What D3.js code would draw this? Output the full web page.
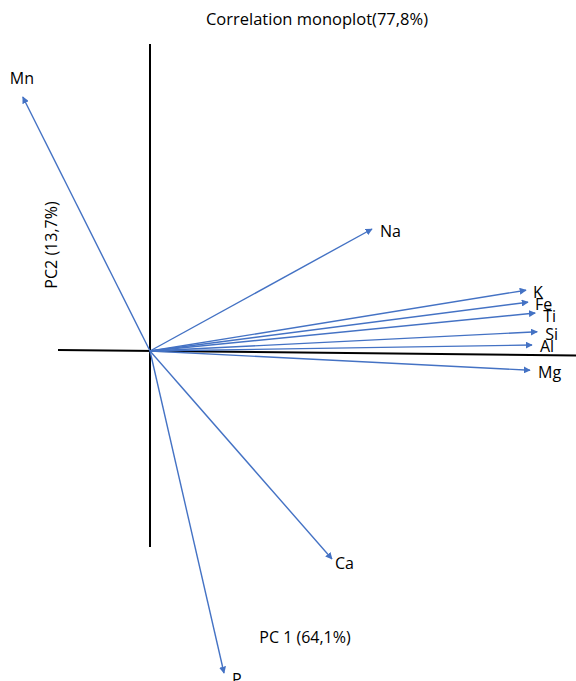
<!DOCTYPE html>
<html><head><meta charset="utf-8">
<script src="https://cdn.jsdelivr.net/npm/d3@7"></script>
<style>body{margin:0;background:#fff}svg{display:block}text{font-family:"Open Sans",sans-serif;fill:#000}</style>
</head><body><svg id="c" width="576" height="681"></svg>
<script>
const variables = ["Mn","Na","K","Fe","Ti","Si","Al","Mg","Ca","P"];
const pc1 = [-0.318, 0.555, 0.940, 0.945, 0.963, 0.968, 0.955, 0.950, 0.455, 0.185];
const pc2 = [0.635, 0.305, 0.152, 0.122, 0.095, 0.048, 0.015, -0.048, -0.520, -0.805];
const title = "Correlation monoplot(77,8%)";
const xLabel = "PC 1 (64,1%)";
const yLabel = "PC2 (13,7%)";

const W = 576, H = 681;
const x = d3.scaleLinear().domain([-0.23, 1.065]).range([58, 576]);
const y = d3.scaleLinear().domain([0.8775, -0.825]).range([0, 681]);
const svg = d3.select("#c");
const blue = "#4472C4";

svg.append("defs").append("marker").attr("id","ah").attr("viewBox","0 0 10 10")
  .attr("refX",9).attr("refY",5).attr("markerWidth",7).attr("markerHeight",7)
  .attr("markerUnits","userSpaceOnUse").attr("orient","auto")
  .append("path").attr("d","M0,0L10,5L0,10z").attr("fill",blue);

// axes lines
svg.append("line").attr("x1",x(0)).attr("x2",x(0)).attr("y1",y(0.7675)).attr("y2",y(-0.49))
  .attr("stroke","#000").attr("stroke-width",2);
svg.append("line").attr("x1",x(-0.23)).attr("x2",x(1.065)).attr("y1",y(0.0025)).attr("y2",y(-0.0113))
  .attr("stroke","#000").attr("stroke-width",2);

const data = variables.map((v,i)=>({v, a:pc1[i], b:pc2[i]}));
svg.selectAll("line.v").data(data).join("line").attr("class","v")
  .attr("x1",x(0)).attr("y1",y(0)).attr("x2",d=>x(d.a)).attr("y2",d=>y(d.b))
  .attr("stroke",blue).attr("stroke-width",1.4).attr("marker-end","url(#ah)");

const off = {Mn:[-13,-13],Na:[8,8],K:[7,8],Fe:[7,8],Ti:[8,9],Si:[8,8],Al:[8,7],Mg:[8,8],Ca:[3,10],P:[8,12]};
svg.selectAll("text.l").data(data).join("text").attr("class","l")
  .attr("x",d=>x(d.a)+off[d.v][0]).attr("y",d=>y(d.b)+off[d.v][1])
  .attr("font-size",16).text(d=>d.v);

svg.append("text").attr("x",317).attr("y",25).attr("text-anchor","middle").attr("font-size",16.5).text(title);
svg.append("text").attr("x",305).attr("y",643).attr("text-anchor","middle").attr("font-size",16).text(xLabel);
svg.append("text").attr("transform","translate(57,245) rotate(-90)").attr("text-anchor","middle").attr("font-size",16).text(yLabel);
</script></body></html>
